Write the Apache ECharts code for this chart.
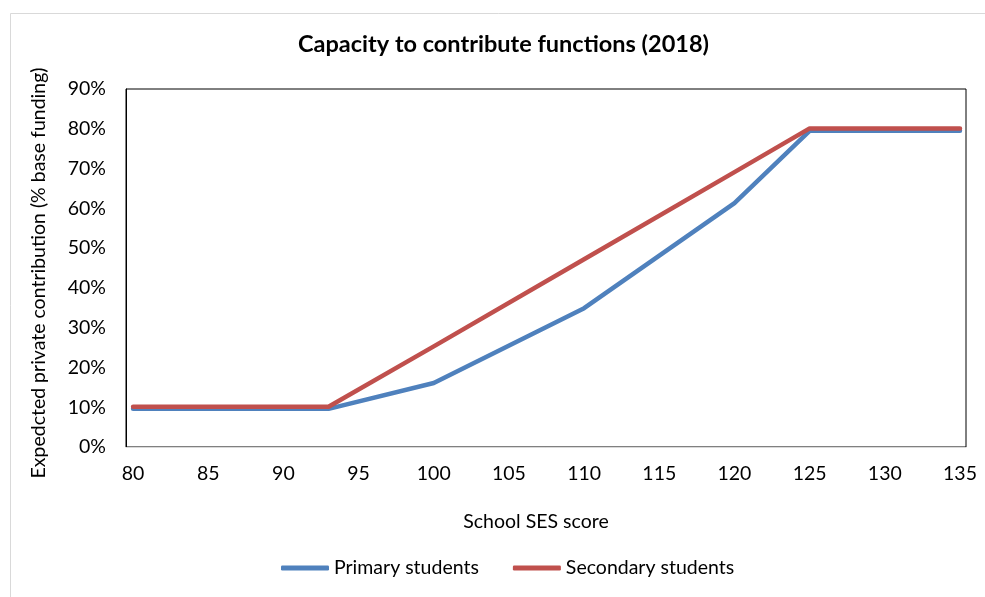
<!DOCTYPE html>
<html>
<head>
<meta charset="utf-8">
<script src="https://cdn.jsdelivr.net/npm/echarts@6/dist/echarts.min.js"></script>
<style>
html,body{margin:0;padding:0;background:#fff;}
#chart{width:985px;height:597px;}
</style>
</head>
<body>
<div id="chart"></div>
<script>
var titleText = 'Capacity to contribute functions (2018)';
var xAxisName = 'School SES score';
var yAxisName = 'Expedcted private contribution (% base funding)';
var sesScores = [80, 93, 100, 110, 120, 125, 135];
var primaryValues = [9.6, 9.6, 16.1, 34.9, 61.3, 79.5, 79.5];
var secondaryValues = [10.1, 10.1, 25.3, 47.2, 69.1, 80.1, 80.1];
var xTickLabels = [80, 85, 90, 95, 100, 105, 110, 115, 120, 125, 130, 135];
var seriesNames = ['Primary students', 'Secondary students'];

function pairs(xs, ys) { return xs.map(function (x, i) { return [x, ys[i]]; }); }

var FONT = 'Lato';
var FS = 19.5;
var chart = echarts.init(document.getElementById('chart'), null, { renderer: 'canvas' });
chart.setOption({
  backgroundColor: '#fff',
  animation: false,
  graphic: [{
    type: 'rect', left: 8, top: 11, silent: true,
    shape: { width: 1000, height: 700 },
    style: { fill: 'none', stroke: '#d9d9d9', lineWidth: 1 }
  }],
  title: {
    text: titleText, left: 298, top: 32, padding: 0,
    textStyle: { fontFamily: FONT, fontSize: 23.5, fontWeight: 'bold', color: '#000' }
  },
  legend: {
    bottom: 19, left: 281, padding: 0,
    itemWidth: 48, itemHeight: 5, itemGap: 34, icon: 'roundRect',
    textStyle: { fontFamily: FONT, fontSize: FS, color: '#000' },
    data: seriesNames
  },
  grid: {
    left: 126, top: 89, right: 19, bottom: 150,
    show: true, borderColor: '#000', borderWidth: 1, backgroundColor: 'transparent'
  },
  xAxis: {
    type: 'value', min: 79.53, max: 135.4,
    name: xAxisName, nameLocation: 'middle', nameGap: 65,
    nameTextStyle: { fontFamily: FONT, fontSize: FS, color: '#000', padding: [0, 20, 0, 0] },
    axisLine: { show: true, lineStyle: { color: '#d9d9d9', width: 1 } },
    axisTick: { show: false },
    splitLine: { show: false },
    axisLabel: { customValues: xTickLabels, margin: 17, fontFamily: FONT, fontSize: FS, color: '#000' }
  },
  yAxis: {
    type: 'value', min: 0, max: 90, interval: 10,
    name: yAxisName, nameLocation: 'middle', nameGap: 77,
    nameTextStyle: { fontFamily: FONT, fontSize: FS, color: '#000', padding: [0, 10, 0, 0] },
    axisLine: { show: true, lineStyle: { color: '#000', width: 1 } },
    axisTick: { show: false },
    splitLine: { show: false },
    axisLabel: { formatter: '{value}%', margin: 20, fontFamily: FONT, fontSize: FS, color: '#000' }
  },
  series: [
    {
      name: seriesNames[0], type: 'line', data: pairs(sesScores, primaryValues),
      showSymbol: false, symbol: 'none', lineStyle: { color: '#4F81BD', width: 4.5, cap: 'round', join: 'round' },
      itemStyle: { color: '#4F81BD' }
    },
    {
      name: seriesNames[1], type: 'line', data: pairs(sesScores, secondaryValues),
      showSymbol: false, symbol: 'none', lineStyle: { color: '#C0504D', width: 4.5, cap: 'round', join: 'round' },
      itemStyle: { color: '#C0504D' }
    }
  ]
});
</script>
</body>
</html>
